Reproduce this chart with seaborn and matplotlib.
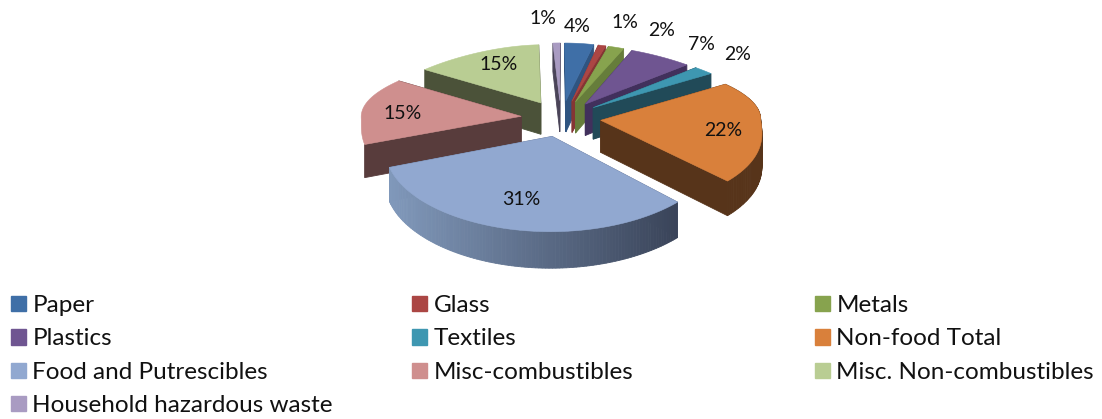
import numpy as np
import seaborn as sns
import matplotlib
matplotlib.use("Agg")
import matplotlib.pyplot as plt
from matplotlib.patches import Patch

# ---- data ----
categories = ["Paper", "Glass", "Metals", "Plastics", "Textiles", "Non-food Total",
              "Food and Putrescibles", "Misc-combustibles", "Misc. Non-combustibles",
              "Household hazardous waste"]
percent = [4, 1, 2, 7, 2, 22, 31, 15, 15, 1]

# ---- styles ----
top_colors = ["#3f6fa7", "#ab4644", "#87a34e", "#6f5591", "#3e97b1", "#d9803b",
              "#91a8d0", "#cf8f8e", "#b9cd93", "#a99bc2"]
wall_colors = ["#2f5480", "#853534", "#667d3b", "#41305c", "#214a58", "#57341a",
               "#5c6a88", "#583c3c", "#4b5239", "#4a4458"]
food_wall_left, food_wall_right = "#8098ba", "#394358"

# ---- layout (image pixels) ----
W, H = 1102, 419
CX, CY = 561, 118
RX, RY = 160, 72.5
PX_BACK, PX_FRONT, PY, PZ = 0.25, 0.14, 0.166, 0.10
EXPLODE = 0.25
DEPTH = 32
LABEL_XY = [(577, 26), (625, 22), (662, 30), (701, 44), (738, 54),
            (723, 130), (521, 199), (403, 113), (499, 65), (543, 19)]

sns.set_theme(style="white")
plt.rcParams["font.family"] = ["Lato", "DejaVu Sans"]
palette = sns.color_palette(top_colors)

fig = plt.figure(figsize=(W / 100, H / 100), dpi=100)
ax = fig.add_axes([0, 0, 1, 1])
ax.set_xlim(0, W)
ax.set_ylim(H, 0)
ax.axis("off")


def project(x, y, z=0.0):
    y = np.asarray(y, dtype=float)
    back = 1 + PX_BACK * y ** 2
    front = 1 + PX_FRONT * y * (1 - np.exp(np.minimum(y, 0) / 0.2))
    sx = 1 / np.where(y > 0, back, front)
    sy = 1 / (1 + PY * y)
    sz = 1 / (1 + PZ * y)
    return CX + RX * x * sx, CY - RY * y * sy + z * DEPTH * sz


def quad(p, q, color):
    xa, ya = project(*p)
    xb, yb = project(*q)
    xc, yc = project(*q, 1)
    xd, yd = project(*p, 1)
    return ([xa, xb, xc, xd], [ya, yb, yc, yd], color)


frac = np.array(percent, dtype=float) / sum(percent)
edges = np.concatenate([[0], np.cumsum(frac)]) * 2 * np.pi
rgb = matplotlib.colors.to_rgb
wedges = []
for i, (a0, a1) in enumerate(zip(edges[:-1], edges[1:])):
    mid = (a0 + a1) / 2
    ax0, ay0 = EXPLODE * np.sin(mid), EXPLODE * np.cos(mid)
    t = np.linspace(a0, a1, max(8, int(np.degrees(a1 - a0))))
    ox, oy = ax0 + np.sin(t), ay0 + np.cos(t)
    wedges.append((i, ay0 + np.cos(mid) * 0.5, (ax0, ay0), ox, oy, mid))

# back-to-front painter's order
for i, _, apex, ox, oy, mid in sorted(wedges, key=lambda w: -w[1]):
    faces = [quad(apex, (ox[0], oy[0]), wall_colors[i]),
             quad(apex, (ox[-1], oy[-1]), wall_colors[i])]
    if np.cos(mid) < -0.1:  # only wedges facing the viewer show their rim
        for j in range(len(ox) - 1):
            c = wall_colors[i]
            if categories[i].startswith("Food"):
                f = (project(ox[j], oy[j])[0] - 395) / 285
                f = float(np.clip(f, 0, 1))
                c = tuple((1 - f) * np.array(rgb(food_wall_left)) + f * np.array(rgb(food_wall_right)))
            faces.append(quad((ox[j], oy[j]), (ox[j + 1], oy[j + 1]), c))
    faces.sort(key=lambda q: min(q[1]))
    for xs, ys, c in faces:
        ax.fill(xs, ys, color=c, lw=0.6)
    tx, ty = project(np.r_[apex[0], ox], np.r_[apex[1], oy])
    ax.fill(tx, ty, color=palette[i], lw=0.4)

for v, (x, y) in zip(percent, LABEL_XY):
    ax.text(x, y, f"{v}%", ha="center", va="center", fontsize=14, color="#111111")

# ---- legend: three columns, filled row by row ----
columns = [([0, 3, 6, 9], 11), ([1, 4, 7], 412), ([2, 5, 8], 815)]
for n, (idx, x) in enumerate(columns):
    handles = [Patch(color=palette[i], label=categories[i]) for i in idx]
    leg = ax.legend(handles=handles, loc="upper left", bbox_to_anchor=(x, 295),
                    bbox_transform=ax.transData, frameon=False, fontsize=17.5,
                    borderpad=0, borderaxespad=0, handlelength=0.6, handleheight=0.6,
                    handletextpad=0.28, labelspacing=0.51, labelcolor="#111111")
    if n < len(columns) - 1:
        ax.add_artist(leg)

fig.savefig("out.png", dpi=100)
